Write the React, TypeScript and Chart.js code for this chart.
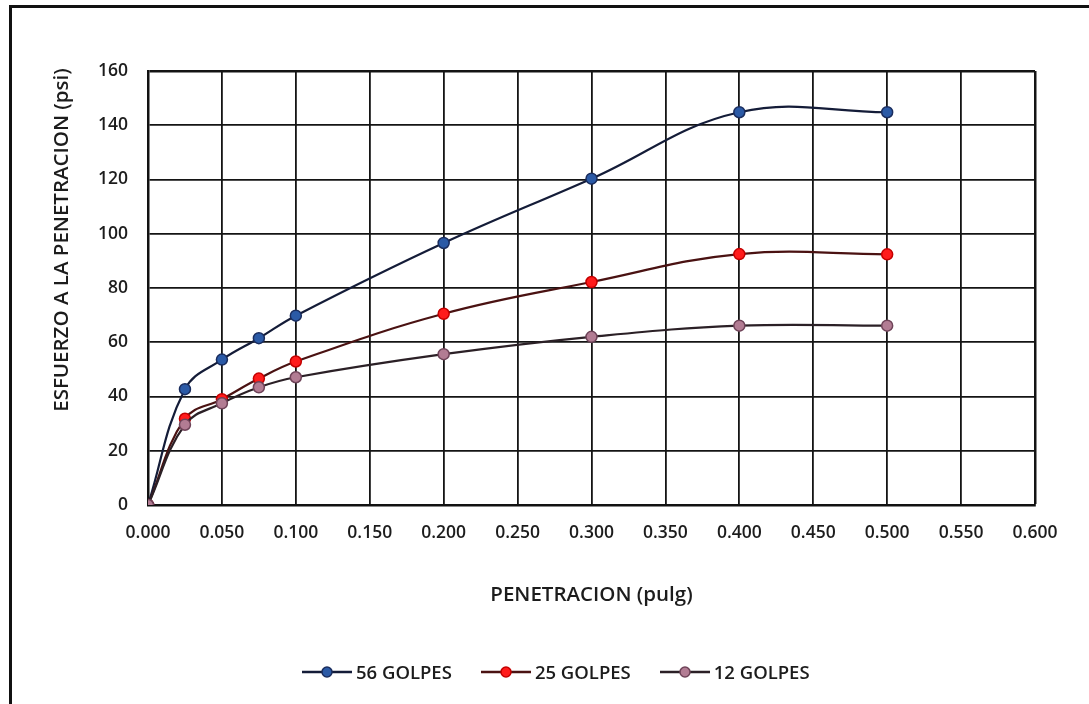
import React, { useEffect, useRef } from "react";
import { Chart, registerables } from "chart.js";

Chart.register(...registerables);

const FONT = '"Open Sans", sans-serif';
const TEXT = "#1c1c1c";
const WEIGHT = "600";

// Data
const penetration = [0, 0.025, 0.05, 0.075, 0.1, 0.2, 0.3, 0.4, 0.5];
const golpes56 = [0, 42.7, 53.6, 61.5, 69.8, 96.6, 120.3, 144.8, 144.8];
const golpes25 = [0, 31.8, 39.0, 46.6, 52.9, 70.5, 82.2, 92.5, 92.4];
const golpes12 = [0, 29.6, 37.5, 43.4, 47.1, 55.6, 62.0, 66.1, 66.1];

const seriesNames = ["56 GOLPES", "25 GOLPES", "12 GOLPES"];
const seriesValues = [golpes56, golpes25, golpes12];
const lineColors = ["#141c38", "#4a1212", "#2b2026"];
const markerFill = ["#2b5aa6", "#ff1c1c", "#b27c93"];
const markerBorder = ["#1a2d5e", "#c40000", "#6e4358"];

const xMin = 0;
const xMax = 0.6;
const xStep = 0.05;
const yMin = 0;
const yMax = 160;
const yStep = 20;

const xTitle = "PENETRACION (pulg)";
const yTitle = "ESFUERZO A LA PENETRACION (psi)";

const yTitlePlugin = {
  id: "yTitleCustom",
  afterDraw(chart: any) {
    const ctx = chart.ctx;
    ctx.save();
    ctx.translate(62, 240);
    ctx.rotate(-Math.PI / 2);
    ctx.font = `${WEIGHT} 20.5px ${FONT}`;
    ctx.fillStyle = TEXT;
    ctx.textAlign = "center";
    ctx.textBaseline = "middle";
    ctx.fillText(yTitle, 0, 0);
    ctx.restore();
  },
};

export default function App() {
  const canvasRef = useRef<HTMLCanvasElement | null>(null);

  useEffect(() => {
    if (!canvasRef.current) return;
    const datasets = seriesNames.map((name, i) => ({
      label: name,
      data: penetration.map((x, j) => ({ x, y: seriesValues[i][j] })),
      showLine: true,
      tension: 0.4,
      borderColor: lineColors[i],
      borderWidth: 2.2,
      pointRadius: 5.5,
      pointBackgroundColor: markerFill[i],
      pointBorderColor: markerBorder[i],
      pointBorderWidth: 1.5,
      order: seriesNames.length - i,
    }));

    const chart = new Chart(canvasRef.current, {
      type: "scatter",
      data: { datasets },
      plugins: [yTitlePlugin],
      options: {
        animation: false,
        responsive: false,
        devicePixelRatio: 1,
        layout: { padding: { left: 0, right: 54, top: 71, bottom: 89 } },
        plugins: {
          legend: { display: false },
          tooltip: { enabled: false },
        },
        scales: {
          x: {
            type: "linear",
            min: xMin,
            max: xMax,
            afterFit: (scale: any) => {
              scale.height = 110;
            },
            ticks: {
              stepSize: xStep,
              padding: 18,
              color: TEXT,
              font: { family: FONT, size: 17.5, weight: WEIGHT },
              callback: (v: any) => Number(v).toFixed(3),
            },
            grid: {
              color: "#141414",
              drawTicks: false,
              lineWidth: (c: any) =>
                c.tick && Math.abs(c.tick.value - xMax) < 1e-6 ? 2.5 : 1.8,
            },
            border: { display: true, color: "#111111", width: 2.5 },
            title: {
              display: true,
              text: xTitle,
              color: TEXT,
              font: { family: FONT, size: 20.5, weight: WEIGHT },
              padding: { top: 0, bottom: 8 },
            },
          },
          y: {
            type: "linear",
            min: yMin,
            max: yMax,
            afterFit: (scale: any) => {
              scale.width = 148;
            },
            ticks: {
              stepSize: yStep,
              padding: 20,
              color: TEXT,
              font: { family: FONT, size: 17.5, weight: WEIGHT },
            },
            grid: {
              color: "#141414",
              drawTicks: false,
              lineWidth: (c: any) =>
                c.tick && Math.abs(c.tick.value - yMax) < 1e-6 ? 2.5 : 1.8,
            },
            border: { display: true, color: "#111111", width: 2.5 },
          },
        },
      },
    });
    return () => chart.destroy();
  }, []);

  return (
    <div
      style={{
        position: "fixed",
        left: 0,
        top: 0,
        width: 1089,
        height: 704,
        overflow: "hidden",
        background: "#ffffff",
      }}
    >
      <div
        style={{
          position: "absolute",
          left: 9,
          top: 5,
          width: 2000,
          height: 2000,
          borderLeft: "3.5px solid #111",
          borderTop: "3px solid #111",
        }}
      />
      <canvas
        ref={canvasRef}
        width={1089}
        height={704}
        style={{ position: "absolute", left: 0, top: 0, width: 1089, height: 704 }}
      />
      <div
        style={{
          position: "absolute",
          left: 302,
          top: 659,
          display: "flex",
          gap: 29,
          fontFamily: FONT,
          fontSize: 18.5,
          fontWeight: 600,
          lineHeight: "26px",
          color: TEXT,
          whiteSpace: "nowrap",
        }}
      >
        {seriesNames.map((name, i) => (
          <div key={name} style={{ display: "flex", alignItems: "center" }}>
            <svg width={50} height={14} style={{ marginRight: 4 }}>
              <line x1={0} y1={7} x2={50} y2={7} stroke={lineColors[i]} strokeWidth={2.5} />
              <circle cx={25} cy={7} r={5} fill={markerFill[i]} stroke={markerBorder[i]} strokeWidth={1.5} />
            </svg>
            <span>{name}</span>
          </div>
        ))}
      </div>
    </div>
  );
}
